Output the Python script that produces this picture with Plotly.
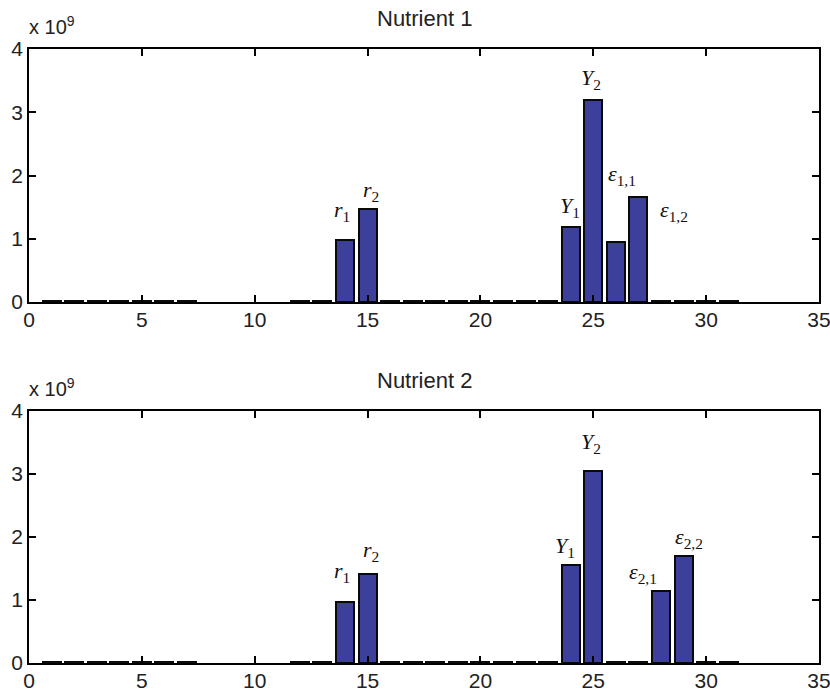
import plotly.graph_objects as go

# ---- data (values in units of 1e9) ----
positions = list(range(1, 32))
s = 0.012  # tiny near-zero values
nutrient1 = [s, s, s, s, s, s, s, None, None, None, None,
             s, s, 0.98, 1.465, s, s, s, s, s, s, s, s,
             1.19, 3.19, 0.95, 1.665, s, s, s, s]
nutrient2 = [s, s, s, s, s, s, s, None, None, None, None,
             s, s, 0.97, 1.41, s, s, s, s, s, s, s, s,
             1.556, 3.05, s, s, 1.15, 1.70, s, s]
titles = ["Nutrient 1", "Nutrient 2"]
x_ticks = [0, 5, 10, 15, 20, 25, 30, 35]
y_ticks = [0, 1, 2, 3, 4]

# labels: (bar position, html text)
labels1 = [(14, "<i>r</i><sub>1</sub>"), (15, "<i>r</i><sub>2</sub>"),
           (24, "<i>Y</i><sub>1</sub>"), (25, "<i>Y</i><sub>2</sub>"),
           (26, "<i>ε</i><sub>1,1</sub>"), (27, "<i>ε</i><sub>1,2</sub>")]
labels2 = [(14, "<i>r</i><sub>1</sub>"), (15, "<i>r</i><sub>2</sub>"),
           (24, "<i>Y</i><sub>1</sub>"), (25, "<i>Y</i><sub>2</sub>"),
           (28, "<i>ε</i><sub>2,1</sub>"), (29, "<i>ε</i><sub>2,2</sub>")]
# pixel offsets of labels relative to bar tops (style)
offs1 = [(-3, 29), (3, 18), (-1, 20), (-2, 21), (6, 67), (36, -14)]
offs2 = [(-3, 30), (3, 23), (-6, 18), (-2, 28), (-18, 18), (5, 18)]

W, H = 830, 692
xd = [29 / W, 819 / W]
yd1 = [1 - 302 / H, 1 - 49 / H]
yd2 = [1 - 663 / H, 1 - 411 / H]

BAR = "#3c409a"
SANS = "Liberation Sans, Arial, sans-serif"
TF = dict(family=SANS, size=21, color="#222")
LF = dict(family="Liberation Serif, Times New Roman, serif", size=22, color="#111")

fig = go.Figure()
series = [nutrient1, nutrient2]
labs = [labels1, labels2]
offs = [offs1, offs2]
for i, vals in enumerate(series):
    xa = "x" if i == 0 else "x2"
    ya = "y" if i == 0 else "y2"
    fig.add_trace(go.Bar(x=positions, y=vals, width=0.8, xaxis=xa, yaxis=ya,
                         marker=dict(color=BAR, line=dict(color="#0a0a0a", width=2)),
                         showlegend=False))
    for (p, t), (dx, dy) in zip(labs[i], offs[i]):
        fig.add_annotation(x=p, y=vals[p - 1], xref=xa, yref=ya, text=t,
                           showarrow=False, xshift=dx, yshift=dy,
                           font=LF, xanchor="center", yanchor="middle")

axis_common = dict(showline=True, linecolor="black", linewidth=1.5, mirror="ticks",
                   ticks="inside", ticklen=7, tickwidth=1.5, tickcolor="black",
                   showgrid=False, zeroline=False, tickfont=TF,
                   ticklabeloverflow="allow", automargin=False)
fig.update_layout(
    template="none",
    width=W, height=H, margin=dict(l=0, r=0, t=0, b=0, autoexpand=False),
    plot_bgcolor="white", paper_bgcolor="white", bargap=0,
    xaxis=dict(domain=xd, anchor="y", range=[0, 35], tickvals=x_ticks,
               ticklabelstandoff=-2, **axis_common),
    yaxis=dict(domain=yd1, anchor="x", range=[0, 4], tickvals=y_ticks, **axis_common),
    xaxis2=dict(domain=xd, anchor="y2", range=[0, 35], tickvals=x_ticks,
                ticklabelstandoff=-2, **axis_common),
    yaxis2=dict(domain=yd2, anchor="x2", range=[0, 4], tickvals=y_ticks, **axis_common),
)

# titles and exponent labels
for title, yd in zip(titles, [yd1, yd2]):
    fig.add_annotation(x=(xd[0] + xd[1]) / 2, y=yd[1], xref="paper", yref="paper",
                       text=title, showarrow=False, yshift=31, yanchor="middle",
                       font=dict(family=SANS, size=22, color="#222"))
    fig.add_annotation(x=xd[0], y=yd[1], xref="paper", yref="paper",
                       text="x 10<sup>9</sup>", showarrow=False, yshift=24, xanchor="left",
                       xshift=-2, yanchor="middle",
                       font=dict(family=SANS, size=20, color="#222"))

fig.write_html("out.html")
